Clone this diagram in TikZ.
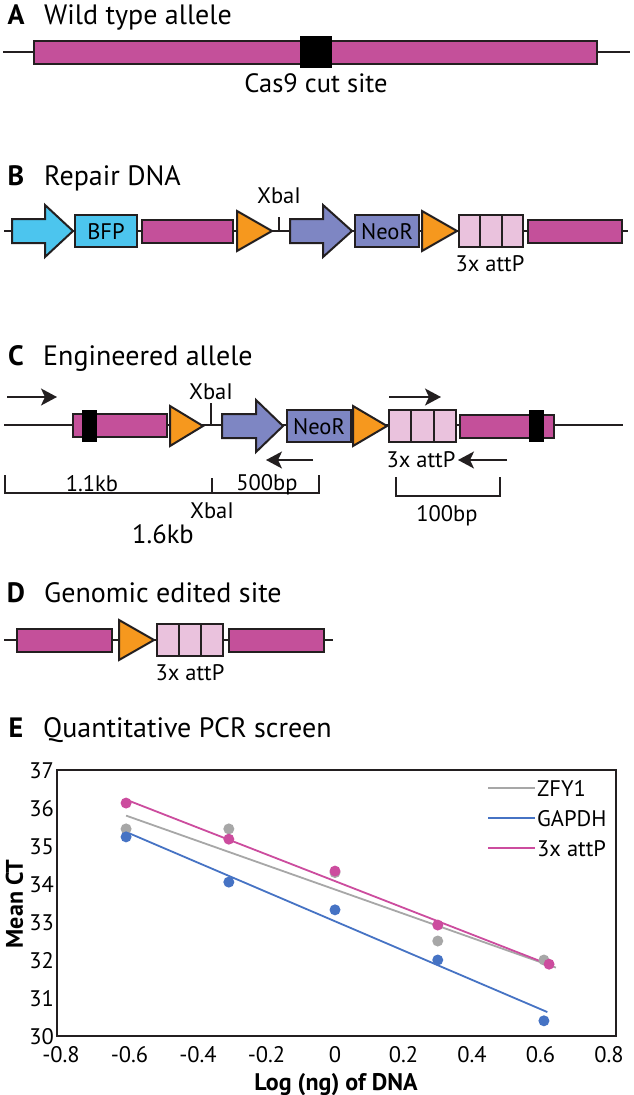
\documentclass[tikz,border=0pt]{standalone}
\usepackage{fontspec}
\setmainfont{PT Sans}
\usetikzlibrary{arrows.meta}
\definecolor{mag}{HTML}{C4509A}
\definecolor{cyanb}{HTML}{4CC5EE}
\definecolor{purp}{HTML}{7E86C3}
\definecolor{orng}{HTML}{F6981E}
\definecolor{pnk}{HTML}{EAC2DD}
\definecolor{outl}{HTML}{231F20}
\definecolor{plmag}{HTML}{CC4C9E}
\definecolor{plblue}{HTML}{4673C4}
\definecolor{plgray}{HTML}{A7A7A7}
\tikzset{
  shp/.style={draw=outl, line width=2pt, line join=miter},
  dna/.style={draw=outl, line width=1.6pt},
  ttl/.style={font=\fontsize{28}{30}\selectfont, anchor=base west, inner sep=0pt},
  ttlb/.style={font=\fontsize{28}{30}\selectfont\bfseries, anchor=base, inner sep=0pt},
  lbl/.style={font=\fontsize{22.5}{24}\selectfont, anchor=base, inner sep=0pt},
  big/.style={font=\fontsize{26.5}{28}\selectfont, anchor=base, inner sep=0pt},
  primer/.style={draw=outl, line width=1.6pt, -{Stealth[length=16pt,width=17pt,inset=4pt]}},
  brk/.style={draw=outl, line width=1.6pt},
  tick/.style={font=\fontsize{22.5}{24}\selectfont, inner sep=0pt},
  axl/.style={font=\fontsize{24}{26}\selectfont\bfseries, inner sep=0pt},
  fitline/.style={line width=1.8pt},
}
\newcommand\mbar[3]{\draw[shp,fill=mag] (#1,{#3-11.5}) rectangle (#2,{#3+11.5});}
\newcommand\otri[3]{\draw[shp,fill=orng] (#1,{#3-20}) -- (#2,#3) -- (#1,{#3+20}) -- cycle;}
\newcommand\attpbox[3]{\draw[shp,fill=pnk] (#1,{#3-16}) rectangle (#2,{#3+16});
  \draw[shp] ({#1+(#2-#1)/3},{#3-16}) -- ({#1+(#2-#1)/3},{#3+16});
  \draw[shp] ({#1+2*(#2-#1)/3},{#3-16}) -- ({#1+2*(#2-#1)/3},{#3+16});}
\newcommand\bigarr[5]{\draw[shp,fill=#5] (#1,{#4-12}) -- (#2,{#4-12}) -- (#2,{#4-26}) -- (#3,#4) -- (#2,{#4+26}) -- (#2,{#4+12}) -- (#1,{#4+12}) -- cycle;}
\newcommand\blk[3]{\fill[black] (#1,{#3-16}) rectangle (#2,{#3+16});}
\begin{document}
\begin{tikzpicture}[x=1pt,y=-1pt]
\path[use as bounding box, fill=white] (0,0) rectangle (633,1095);

% ---------- A ----------
\node[ttlb] (tA) at (16,24) {A};
\node[ttl] (tAt) at (44,24) {Wild type allele};
\coordinate (a0) at (3,52); \coordinate (a1) at (630,52);
\draw[dna] (a0) -- (a1);
\mbar{34}{597}{52}
\blk{300}{332}{52}
\node[big] (cas) at (316,92) {Cas9 cut site};

% ---------- B ----------
\node[ttlb] (tB) at (16,185) {B};
\node[ttl] (tBt) at (44,185) {Repair DNA};
\coordinate (b0) at (4,231); \coordinate (b1) at (628,231);
\draw[dna] (b0) -- (b1);
\bigarr{12}{45}{73}{231}{cyanb}
\draw[shp,fill=cyanb] (75,215) rectangle (137,247);
\node[lbl] (bfp) at (106,239) {BFP};
\mbar{142}{233}{231}
\otri{237}{272}{231}
\coordinate (bx0) at (279,231); \coordinate (bx1) at (279,217);
\draw[dna] (bx0) -- (bx1);
\node[lbl] (bxl) at (279,203) {XbaI};
\bigarr{290}{323}{352}{231}{purp}
\draw[shp,fill=purp] (355,215) rectangle (419,247);
\node[lbl] (bneo) at (387,239) {NeoR};
\otri{422}{457}{231}
\attpbox{459}{523}{231}
\mbar{528}{622}{231}
\node[lbl] (batt) at (490,271) {3x attP};

% ---------- C ----------
\node[ttlb] (tC) at (16,365) {C};
\node[ttl] (tCt) at (43,365) {Engineered allele};
\coordinate (c0) at (4,425); \coordinate (c1) at (623,425);
\draw[dna] (c0) -- (c1);
\mbar{73}{167}{425.5}
\blk{82}{97}{425.5}
\otri{170}{203}{426}
\coordinate (cx0) at (211,425); \coordinate (cx1) at (211,403);
\draw[dna] (cx0) -- (cx1);
\node[lbl] (cxl) at (211,399) {XbaI};
\bigarr{222}{256}{283}{426}{purp}
\draw[shp,fill=purp] (287,410) rectangle (351,442);
\node[lbl] (cneo) at (319,434) {NeoR};
\otri{353}{387}{426}
\attpbox{389}{456}{426}
\mbar{460}{554}{426}
\blk{529}{544}{426}
\node[lbl] (catt) at (421,467) {3x attP};
% primers
\coordinate (p1a) at (7,397); \coordinate (p1b) at (57,397);
\draw[primer] (p1a) -- (p1b);
\coordinate (p2a) at (313,460); \coordinate (p2b) at (266,460);
\draw[primer] (p2a) -- (p2b);
\coordinate (p3a) at (389,397); \coordinate (p3b) at (441,397);
\draw[primer] (p3a) -- (p3b);
\coordinate (p4a) at (507,460); \coordinate (p4b) at (458,460);
\draw[primer] (p4a) -- (p4b);
% brackets
\coordinate (k0) at (5,475); \coordinate (k1) at (5,493);
\coordinate (k2) at (319,493); \coordinate (k3) at (319,475);
\coordinate (km0) at (212,478); \coordinate (km1) at (212,493);
\draw[brk] (k0) -- (k1) -- (k2) -- (k3);
\draw[brk] (km0) -- (km1);
\node[lbl] (l11) at (92,491) {1.1kb};
\node[lbl] (l500) at (267,490) {500bp};
\node[lbl] (lx2) at (212,518) {XbaI};
\node[big] (l16) at (163,543) {1.6kb};
\coordinate (r0) at (396,477); \coordinate (r1) at (396,496);
\coordinate (r2) at (500,496); \coordinate (r3) at (500,477);
\draw[brk] (r0) -- (r1) -- (r2) -- (r3);
\node[lbl] (l100) at (447,521) {100bp};

% ---------- D ----------
\node[ttlb] (tD) at (16,602) {D};
\node[ttl] (tDt) at (44,602) {Genomic edited site};
\coordinate (d0) at (4,640); \coordinate (d1) at (333,640);
\draw[dna] (d0) -- (d1);
\mbar{17}{112}{640.5}
\otri{119}{154}{640}
\attpbox{157}{223}{640}
\mbar{229}{324}{640.5}
\node[lbl] (datt) at (190,680) {3x attP};

% ---------- E ----------
\node[ttlb] (tE) at (16,737) {E};
\node[ttl] (tEt) at (43,737) {Quantitative PCR screen};

\begin{scope}[shift={(335,2176)}, x=342.5pt, y=38pt]
  % fit lines
  \coordinate (gs) at (-0.61,35.80); \coordinate (ge) at (0.645,31.80);
  \coordinate (bs) at (-0.61,35.37); \coordinate (be) at (0.62,30.63);
  \coordinate (ms) at (-0.61,36.22); \coordinate (me) at (0.625,31.88);
  \draw[fitline, plgray] (gs) -- (ge);
  \draw[fitline, plblue] (bs) -- (be);
  \draw[fitline, plmag] (ms) -- (me);
  % points
  \foreach \px/\py in {-0.61/35.45, -0.31/35.45, 0/34.30, 0.30/32.50, 0.61/32.00}
    \fill[plgray] (\px,\py) circle[radius=5.5pt];
  \foreach \px/\py in {-0.61/35.24, -0.31/34.05, 0/33.32, 0.30/32.00, 0.61/30.40}
    \fill[plblue] (\px,\py) circle[radius=5.5pt];
  \foreach \px/\py in {-0.61/36.13, -0.31/35.18, 0/34.34, 0.30/32.92, 0.625/31.89}
    \fill[plmag] (\px,\py) circle[radius=5.5pt];
  % frame
  \coordinate (f0) at (-0.8117,30); \coordinate (f1) at (0.8204,37);
  \draw[draw=outl, line width=2pt] (f0) rectangle (f1);
  % y ticks
  \foreach \v in {30,...,37}
    \node[tick, anchor=base east] (yt\v) at ([xshift=-3pt,yshift=-8pt]-0.8117,\v) {\v};
  % x ticks
  \foreach \v/\t in {-0.8/-0.8,-0.6/-0.6,-0.4/-0.4,-0.2/-0.2,0/0,0.2/0.2,0.4/0.4,0.6/0.6,0.8/0.8}
    \node[tick, anchor=base] at ([yshift=-26pt]\v,30) {\t};
\end{scope}
\node[axl, anchor=base] (xl) at (336,1090) {Log (ng) of DNA};
\node[axl, anchor=base, rotate=90] (yl) at (23,904) {Mean CT};
% legend
\coordinate (lg1a) at (488,788); \coordinate (lg1b) at (535,788);
\coordinate (lg2a) at (488,818); \coordinate (lg2b) at (535,818);
\coordinate (lg3a) at (488,848); \coordinate (lg3b) at (535,848);
\draw[fitline, plgray] (lg1a) -- (lg1b);
\draw[fitline, plblue] (lg2a) -- (lg2b);
\draw[fitline, plmag] (lg3a) -- (lg3b);
\node[tick, anchor=base west] (lt1) at (537,796) {ZFY1};
\node[tick, anchor=base west] (lt2) at (537,826) {GAPDH};
\node[tick, anchor=base west] (lt3) at (537,856) {3x attP};
\end{tikzpicture}
\end{document}
